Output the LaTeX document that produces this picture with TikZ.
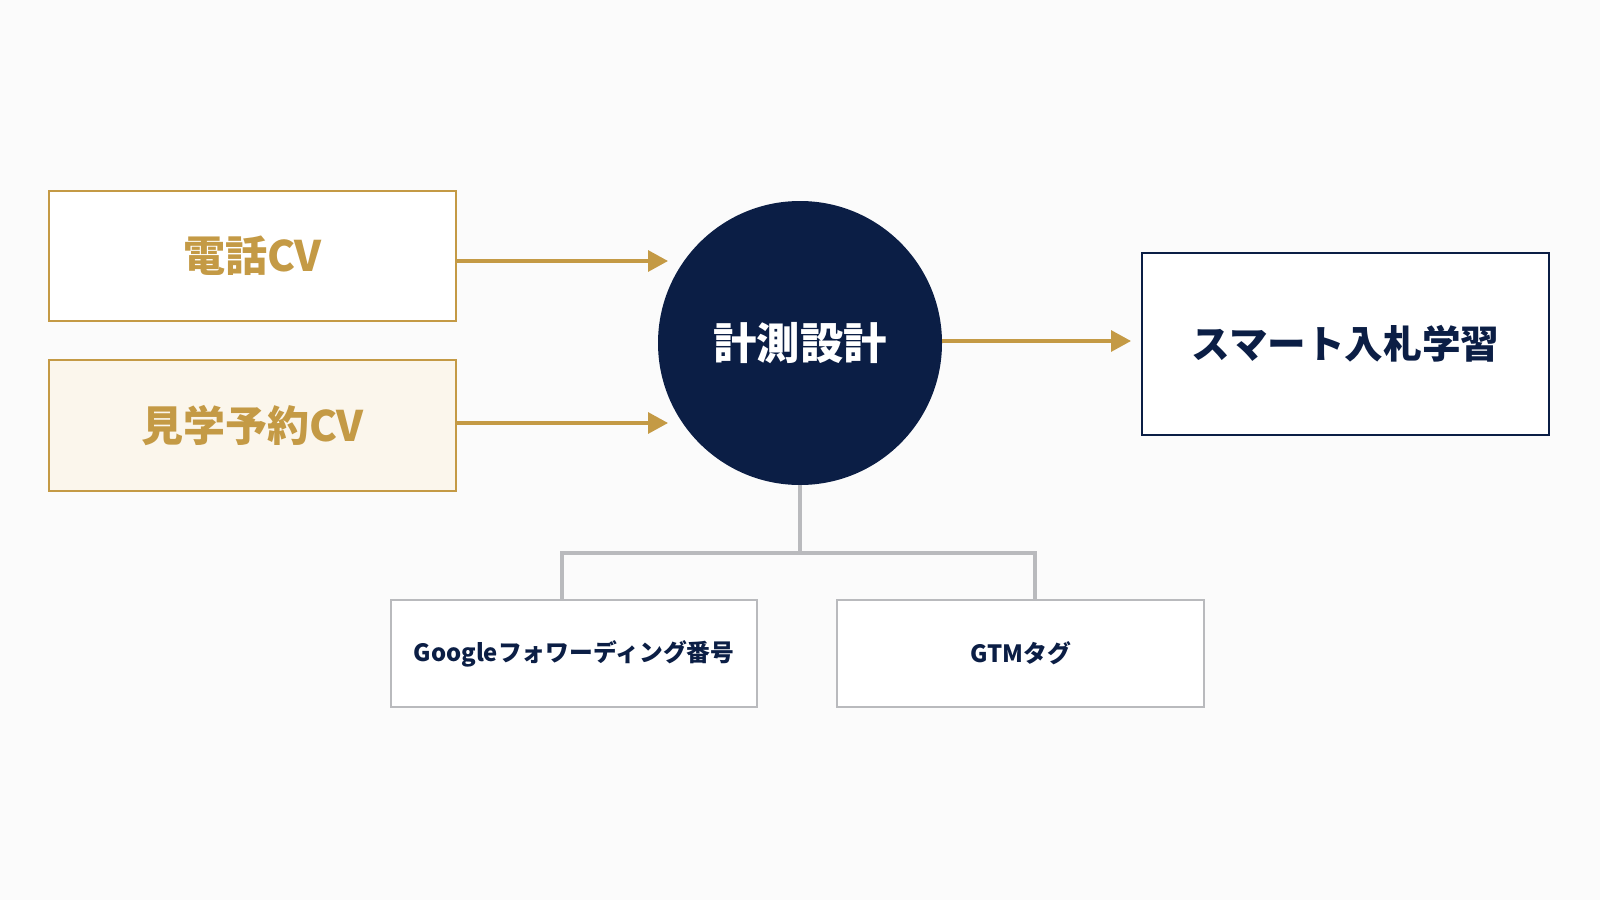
\documentclass[tikz,border=0pt]{standalone}
\usepackage{fontspec}
\setmainfont{Noto Sans CJK JP}
\usetikzlibrary{arrows.meta,calc}
\definecolor{gold}{HTML}{C49A45}
\definecolor{navy}{HTML}{0B1E45}
\definecolor{treegray}{HTML}{B9BABD}
\definecolor{cream}{HTML}{FBF6EC}
\definecolor{bg}{HTML}{FBFBFB}
\tikzset{
  goldbox/.style={draw=gold,line width=1.1pt,rectangle,minimum width=203.5pt,minimum height=65pt,text=gold,font=\bfseries\fontsize{21}{24}\selectfont},
  navybox/.style={draw=navy,line width=1.4pt,fill=white,rectangle,minimum width=203.5pt,minimum height=91pt,text=navy,font=\bfseries\fontsize{19.3}{22}\selectfont},
  graybox/.style={draw=treegray,line width=1.1pt,fill=white,rectangle,minimum width=183pt,minimum height=53.5pt,text=navy,font=\bfseries\fontsize{11.9}{14}\selectfont},
  hub/.style={circle,fill=navy,minimum size=142pt,inner sep=0pt,text=white,font=\bfseries\fontsize{21.7}{24}\selectfont},
  goldarrow/.style={draw=gold,line width=1.6pt,-{Triangle[length=10pt,width=10.5pt]}},
  tree/.style={draw=treegray,line width=1.7pt}
}
\begin{document}
\begin{tikzpicture}[x=0.5pt,y=-0.5pt]
\fill[bg] (0,0) rectangle (1600,900);
\useasboundingbox (0,0) rectangle (1600,900);
\node[goldbox,fill=white] (tel) at (252.5,256) {電話CV};
\node[goldbox,fill=cream,minimum height=65.5pt] (visit) at (252.5,425.5) {見学予約CV};
\node[hub] (hub) at (800,343) {計測設計};
\node[navybox] (smart) at (1345.5,344) {スマート入札学習};
\node[graybox] (gfn) at (574,653.5) {Googleフォワーディング番号};
\node[graybox,minimum width=183.5pt] (gtm) at (1020.5,653.5) {GTMタグ};
\coordinate (t1) at (668,261);
\coordinate (t2) at (668,423);
\coordinate (t3) at (1131,341);
\coordinate (j) at (800,553);
\draw[goldarrow] (tel.east |- t1) -- (t1);
\draw[goldarrow] (visit.east |- t2) -- (t2);
\draw[goldarrow] (hub.east |- t3) -- (t3);
\draw[tree] (hub.south) -- (j);
\draw[tree] (j) -| ([xshift=-6pt]gfn.north);
\draw[tree] (j) -| ([xshift=7.25pt]gtm.north);
\end{tikzpicture}
\end{document}
